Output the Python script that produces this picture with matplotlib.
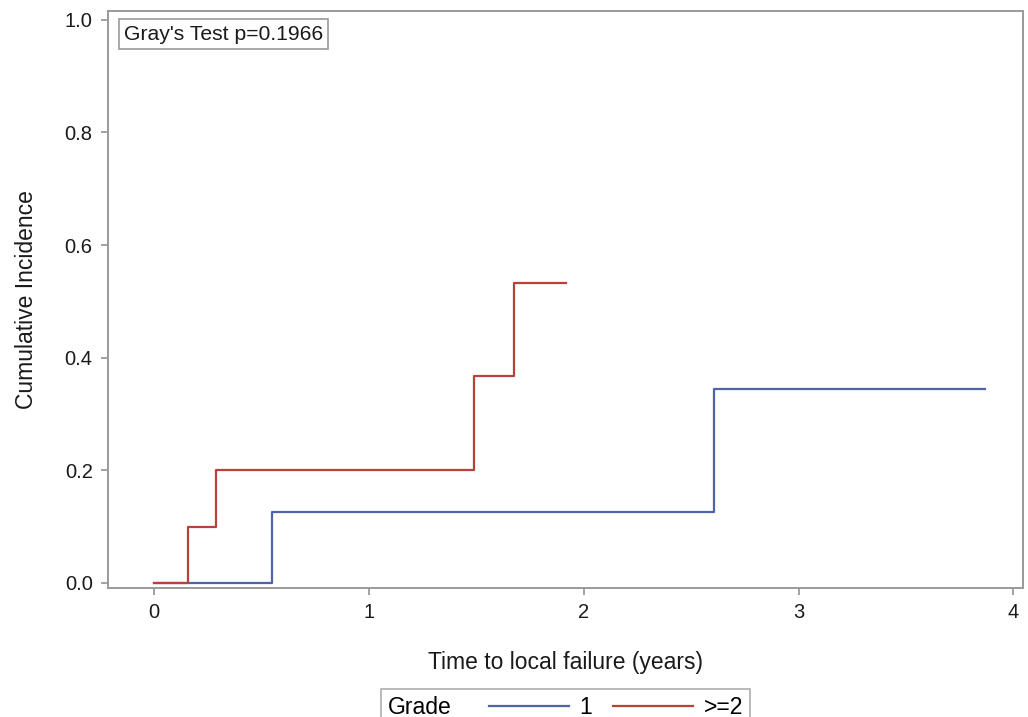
import numpy as np
import matplotlib
matplotlib.use('Agg')
import matplotlib.pyplot as plt
from matplotlib.offsetbox import HPacker

plt.rcParams['font.family'] = ['Liberation Sans', 'DejaVu Sans']

# step data (cumulative incidence by grade)
t_g1 = [0.0, 0.551, 2.606, 3.866]
ci_g1 = [0.0, 0.125, 0.344, 0.344]
t_g2 = [0.0, 0.157, 0.289, 1.490, 1.675, 1.918]
ci_g2 = [0.0, 0.100, 0.200, 0.367, 0.533, 0.533]
labels = ['1', '>=2']
xticks = [0, 1, 2, 3, 4]
yticks = [0.0, 0.2, 0.4, 0.6, 0.8, 1.0]

c_blue = '#4F63A8'
c_red = '#B5433A'
gray = '#9a9a9a'

fig = plt.figure(figsize=(10.28, 7.17), dpi=100)
ax = fig.add_axes([0.105, 0.180, 0.890, 0.805])

l1, = ax.step(t_g1, ci_g1, where='post', c=c_blue, lw=1.6)
l2, = ax.step(t_g2, ci_g2, where='post', c=c_red, lw=1.6)

ax.set_xlim(-0.214, 4.044)
ax.set_ylim(-0.009, 1.016)
ax.set_xticks(xticks)
ax.set_yticks(yticks)
ax.set_yticklabels(['%.1f' % v for v in yticks])
for s in ax.spines.values():
    s.set_color(gray)
    s.set_linewidth(1.4)
ax.tick_params(direction='out', length=5, width=1.3, color=gray,
               labelsize=14.5, pad=6, labelcolor='#1a1a1a')

ax.set_xlabel('Time to local failure (years)', fontsize=16.5, labelpad=21, color='#1a1a1a')
ax.set_ylabel('Cumulative Incidence', fontsize=16.5, labelpad=19, color='#1a1a1a')

ax.text(0.0175, 0.976, "Gray's Test p=0.1966", transform=ax.transAxes,
        fontsize=15.2, va='top', ha='left', color='#1a1a1a',
        bbox=dict(boxstyle='square,pad=0.25', fc='white', ec=gray, lw=1.2))

fs = 16.5
leg = fig.legend([l1, l2], labels, title='Grade', loc='upper center',
                 bbox_to_anchor=(0.5497, 0.0555), ncol=2, fontsize=fs,
                 title_fontsize=fs, frameon=True, fancybox=False,
                 handlelength=3.5, handletextpad=0.45, columnspacing=0.9,
                 borderpad=0.3, edgecolor=gray)
leg.get_frame().set_linewidth(1.2)
# put the title to the left of the entries, as in the reference
leg._legend_box = HPacker(pad=leg.borderpad * fs, sep=1.65 * fs, align='center',
                          children=[leg._legend_title_box, leg._legend_handle_box])
leg._legend_box.set_figure(fig)
leg._legend_box.set_offset(leg._findoffset)

fig.savefig('out.png', dpi=100)
